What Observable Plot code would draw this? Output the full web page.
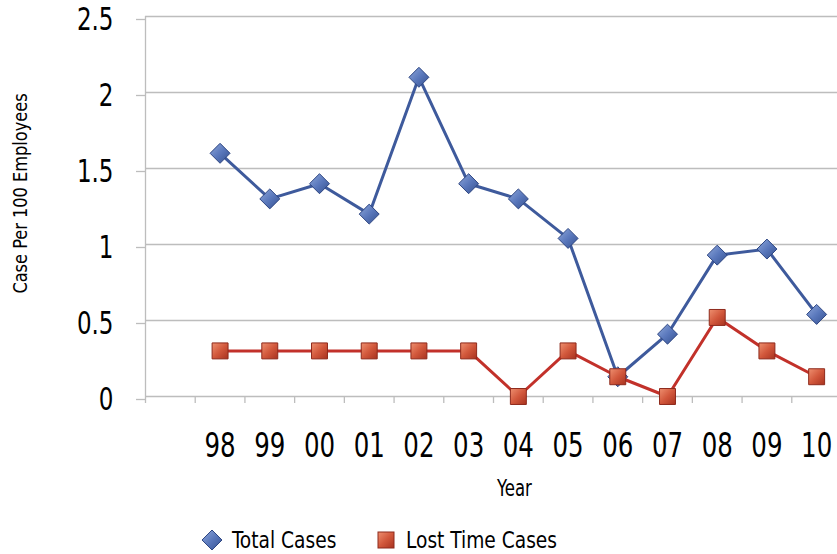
<!DOCTYPE html>
<html><head><meta charset="utf-8">
<script src="https://cdn.jsdelivr.net/npm/d3@7"></script>
<script src="https://cdn.jsdelivr.net/npm/@observablehq/plot@0.6"></script>
<style>
body{margin:0;background:#fff;overflow:hidden;font-family:"DejaVu Sans Condensed","DejaVu Sans",sans-serif}
#legend{position:relative;height:29px;width:837px;font-size:23px;color:#000}
#legend .item{position:absolute;top:0;height:29px;display:flex;align-items:center;white-space:nowrap}
#legend svg{display:block}
#legend .lbl{display:inline-block;transform:scaleX(0.9);transform-origin:left center}
</style></head><body>
<div id="chart"></div>
<div id="legend"></div>
<script>
const years = ["98","99","00","01","02","03","04","05","06","07","08","09","10"];
const totalCases = [1.6,1.3,1.4,1.2,2.1,1.4,1.3,1.04,0.13,0.41,0.93,0.97,0.54];
const lostTimeCases = [0.3,0.3,0.3,0.3,0.3,0.3,0,0.3,0.13,0,0.52,0.3,0.13];
const yTicks = [0,0.5,1,1.5,2,2.5];
const seriesNames = ["Total Cases","Lost Time Cases"];
const yTitle = "Case Per 100 Employees";
const xTitle = "Year";

// slot 0 is an empty category, years occupy slots 1..13
const slotEdges = d3.range(years.length + 2);
const slotCenters = years.map((d,i)=>i+1.5);
const rowsTotal = years.map((y,i)=>({x:slotCenters[i], v:totalCases[i]}));
const rowsLost = years.map((y,i)=>({x:slotCenters[i], v:lostTimeCases[i]}));

const grid = "#bdbdbd";
const blue = "#3E5A9C", red = "#C2312A";
const font = '"DejaVu Sans Condensed","DejaVu Sans",sans-serif';

const plot = Plot.plot({
  width: 837,
  height: 525,
  marginTop: 16,
  marginBottom: 129,
  marginLeft: 145,
  marginRight: 0,
  style: {fontFamily: font, background: "white", color: "#000"},
  x: {type: "linear", domain: [0, years.length + 1], range: [145, 841]},
  y: {domain: [0, 2.5]},
  marks: [
    Plot.gridY(yTicks, {stroke: grid, strokeOpacity: 1, strokeWidth: 1.3}),
    Plot.ruleX([0], {y1: 0, y2: 2.5, stroke: grid, strokeWidth: 1.3}),
    Plot.axisY(yTicks, {tickSize: 9, tickPadding: 23, fontSize: 32, stroke: grid, strokeWidth: 1.3, fill: "#000", dy: 3, label: null, tickFormat: d => String(d)}),
    Plot.axisX(slotEdges, {tickSize: 7, stroke: grid, strokeWidth: 1.3, tickFormat: () => "", label: null}),
    Plot.axisX(slotCenters, {tickSize: 0, tickPadding: 36, fontSize: 34, fill: "#000", label: null, tickFormat: (d,i) => years[i]}),
    Plot.text([yTitle], {frameAnchor: "left", textAnchor: "middle", rotate: -90, dx: -125, dy: -13, fontSize: 20, fill: "#000"}),
    Plot.text([xTitle], {frameAnchor: "bottom", dx: 23, dy: 99, fontSize: 23, fill: "#000"}),
    Plot.line(rowsTotal, {x: "x", y: "v", stroke: blue, strokeWidth: 3}),
    Plot.line(rowsLost, {x: "x", y: "v", stroke: red, strokeWidth: 3}),
    Plot.dot(rowsTotal, {x: "x", y: "v", symbol: "diamond2", r: 9, fill: "url(#gBlue)", stroke: "#2E4682", strokeWidth: 1}),
    Plot.dot(rowsLost, {x: "x", y: "v", symbol: "square", r: 9, fill: "url(#gRed)", stroke: "#8E2A1C", strokeWidth: 1})
  ]
});

const defs = `<defs>
<linearGradient id="gBlue" x1="0" y1="0" x2="1" y2="1">
<stop offset="0" stop-color="#8FA8DA"/><stop offset="0.5" stop-color="#5A78BC"/><stop offset="1" stop-color="#34508F"/></linearGradient>
<linearGradient id="gRed" x1="0" y1="0" x2="1" y2="1">
<stop offset="0" stop-color="#EE9070"/><stop offset="0.5" stop-color="#D2583C"/><stop offset="1" stop-color="#A8321F"/></linearGradient>
</defs>`;
d3.select(plot).insert("g", ":first-child").html(defs);

// condense text horizontally (narrow typeface look)
d3.select(plot).selectAll("text").each(function() {
  const t = d3.select(this);
  const s = t.text() === yTitle ? 0.9 : 0.8;
  const tr = t.attr("transform");
  if (tr) {
    t.attr("transform", tr + ` scale(${s},1)`);
  } else {
    const x = +(t.attr("x") || 0), y = +(t.attr("y") || 0);
    t.attr("x", null).attr("y", null).attr("transform", `translate(${x},${y}) scale(${s},1)`);
  }
});
document.getElementById("chart").appendChild(plot);

// legend
const legend = d3.select("#legend");
const items = [
  {name: seriesNames[0], left: 201, gap: 9, sym: `<svg width="22" height="22" viewBox="-11 -11 22 22"><defs><linearGradient id="lB" x1="0" y1="0" x2="1" y2="1"><stop offset="0" stop-color="#8FA8DA"/><stop offset="0.5" stop-color="#5A78BC"/><stop offset="1" stop-color="#34508F"/></linearGradient></defs><path d="M0,-10L10,0L0,10L-10,0Z" fill="url(#lB)" stroke="#2E4682"/></svg>`},
  {name: seriesNames[1], left: 377, gap: 11, sym: `<svg width="18" height="18" viewBox="-9 -9 18 18"><defs><linearGradient id="lR" x1="0" y1="0" x2="1" y2="1"><stop offset="0" stop-color="#EE9070"/><stop offset="0.5" stop-color="#D2583C"/><stop offset="1" stop-color="#A8321F"/></linearGradient></defs><rect x="-8" y="-8" width="16" height="16" fill="url(#lR)" stroke="#8E2A1C"/></svg>`}
];
items.forEach(it => {
  const d = legend.append("div").attr("class","item").style("left", it.left + "px");
  d.append("span").html(it.sym);
  d.append("span").attr("class","lbl").style("margin-left", it.gap + "px").text(it.name);
});
</script>
</body></html>
